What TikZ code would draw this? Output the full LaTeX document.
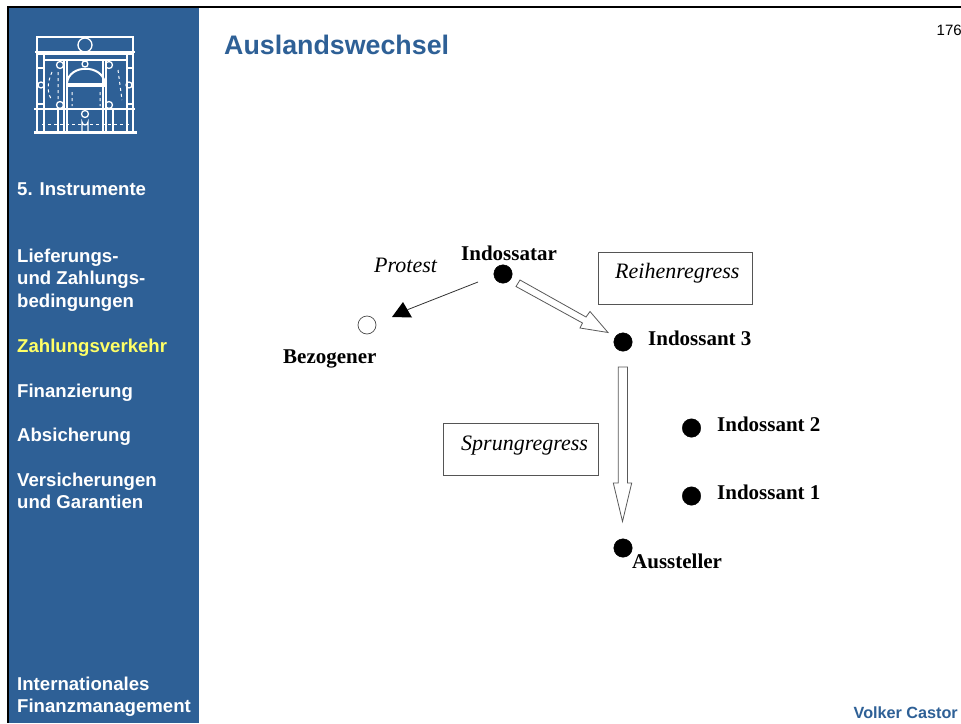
\documentclass[tikz,border=0pt]{standalone}
\usepackage{fontspec}
\setmainfont{Liberation Serif}
\newfontfamily\sansf{Liberation Sans}
\definecolor{sidebar}{HTML}{2E6096}
\definecolor{yel}{HTML}{FFFF66}
\definecolor{boxline}{HTML}{555555}
\tikzset{
 side/.style={anchor=base west,inner sep=0pt,text=white,font=\sansf\bfseries\fontsize{18.6}{18.6}\selectfont},
 dotn/.style={circle,fill=black,draw=black,inner sep=0pt,minimum size=18.5pt},
 opendot/.style={circle,fill=white,draw=black!70,line width=.7pt,inner sep=0pt,minimum size=18pt},
 lab/.style={anchor=base west,inner sep=0pt,font=\bfseries\fontsize{21}{21}\selectfont},
 ital/.style={anchor=base west,inner sep=0pt,font=\itshape\fontsize{22}{22}\selectfont},
 frbox/.style={draw=boxline,line width=.8pt,fill=white},
 hollow/.style={draw=black!65,line width=.8pt,fill=white,line join=miter},
 logo/.style={draw=white,line width=1.3pt},
 logothin/.style={draw=white,line width=1pt,dash pattern=on 3pt off 3pt}
}
\begin{document}
\begin{tikzpicture}[x=1pt,y=-1pt]
\useasboundingbox (0,0) rectangle (961,723);
\fill[white] (0,0) rectangle (961,723);
\fill[sidebar] (8,8) rectangle (199,723);
\fill[black] (7,6) rectangle (961,8);
\fill[black] (7,6) rectangle (9,723);
% logo
\draw[logo] (37,37) rectangle (133,52);
\draw[logo] (85,45) circle [radius=7];
\draw[logo] (35,52) -- (135,52) (36,54) -- (134,54);
\draw[logo] (37,54) -- (37,132) (44,54) -- (44,132) (127,54) -- (127,132) (133,54) -- (133,132);
\draw[logo] (34,109) -- (135,109);
\draw[logo] (35,132) rectangle (136,133);
\draw[logo] (64,60) -- (64,132) (67,60) -- (67,132) (103,60) -- (103,132) (106,60) -- (106,132);
\draw[logo] (44,60) -- (127,60);
\draw[logo] (67,84) -- (105,84) (67,86) -- (105,86);
\draw[logo,line width=2pt] (67,83) .. controls (69,64) and (102,64) .. (105,83);
\draw[logo] (85,64) circle [radius=3];
\draw[logo] (60,65) circle [radius=3.5] (60,105) circle [radius=3.5] (109,65) circle [radius=3.5] (109,105) circle [radius=3.5];
\draw[logo] (41,85) circle [radius=3] (129,85) circle [radius=3];
\draw[logo] (85,114) circle [radius=3.5];
\draw[logo] (82,132) -- (82,122) arc (180:0:3) -- (88,132);
\draw[logo] (58,109) -- (58,132) (113,109) -- (113,132) (37,68) -- (44,68) (127,68) -- (133,68) (37,104) -- (44,104) (127,104) -- (133,104);
\draw[logothin] (52,72) .. controls (46,85) and (48,95) .. (52,100);
\draw[logothin] (58,72) -- (58,100) (118,70) -- (122,100) (72,92) -- (72,106) (100,92) -- (100,106);
\draw[logothin] (42,124) -- (130,124);
% sidebar text
\node[side] (s1) at (17,195.5) {5. Instrumente};
\node[side] (s2) at (17,262) {Lieferungs-};
\node[side] (s3) at (17,284) {und Zahlungs-};
\node[side] (s4) at (17,307) {bedingungen};
\node[side,text=yel] (s5) at (17,352) {Zahlungsverkehr};
\node[side] (s6) at (17,397) {Finanzierung};
\node[side] (s7) at (17,441.5) {Absicherung};
\node[side] (s8) at (17,486) {Versicherungen};
\node[side] (s9) at (17,508) {und Garantien};
\node[side] (s10) at (17,690) {Internationales};
\node[side] (s11) at (17,712) {Finanzmanagement};
% header, footer
\node[anchor=base west,inner sep=0pt,text=sidebar,font=\sansf\bfseries\fontsize{26.8}{26.8}\selectfont] (title) at (224,54) {Auslandswechsel};
\node[anchor=base west,inner sep=0pt,font=\sansf\fontsize{15}{15}\selectfont] (page) at (936.5,35) {176};
\node[anchor=base east,inner sep=0pt,text=sidebar,font=\sansf\bfseries\fontsize{16.2}{16.2}\selectfont] (author) at (958,718) {Volker Castor};
% boxes
\node[frbox,minimum width=154pt,minimum height=52pt,inner sep=0pt] (reihe) at (675,278) {};
\node[frbox,minimum width=155pt,minimum height=52pt,inner sep=0pt] (sprung) at (520.5,449) {};
\node[ital] (reihet) at (615,278) {Reihenregress};
\node[ital] (sprungt) at (461,450) {Sprungregress};
\node[ital] (protest) at (374,272) {Protest};
% dots
\node[dotn] (ind) at (503,274) {};
\node[dotn] (i3) at (623,342) {};
\node[dotn] (i2) at (691.5,428) {};
\node[dotn] (i1) at (691.5,496) {};
\node[dotn] (aus) at (623,548) {};
\node[opendot] (bez) at (367,325) {};
\node[lab] (indt) at (461,260) {Indossatar};
\node[lab] (i3t) at (648,345) {Indossant 3};
\node[lab] (i2t) at (717,431) {Indossant 2};
\node[lab] (i1t) at (717,499) {Indossant 1};
\node[lab] (aust) at (632,568) {Aussteller};
\node[lab] (bezt) at (283,363) {Bezogener};
% arrows
\coordinate (pstart) at (478,282);
\coordinate (ptip) at (392,317);
\coordinate (pa) at (403,302);
\coordinate (pb) at (412,317.5);
\coordinate (pm) at (407.5,309.7);
\draw[black!80,line width=.8pt] (pstart) -- (pm);
\fill[black] (ptip) -- (pa) -- (pb) -- cycle;
\draw[hollow] (520,280) -- (586,317) -- (590,311.5) -- (608,332.5) -- (580,328) -- (582.5,323) -- (516,286.5) -- cycle;
\draw[hollow] (618.3,367) -- (627.5,367) -- (627.5,483) -- (631.7,483) -- (622.5,521.5) -- (613.3,483) -- (618.3,483) -- cycle;
\end{tikzpicture}
\end{document}
